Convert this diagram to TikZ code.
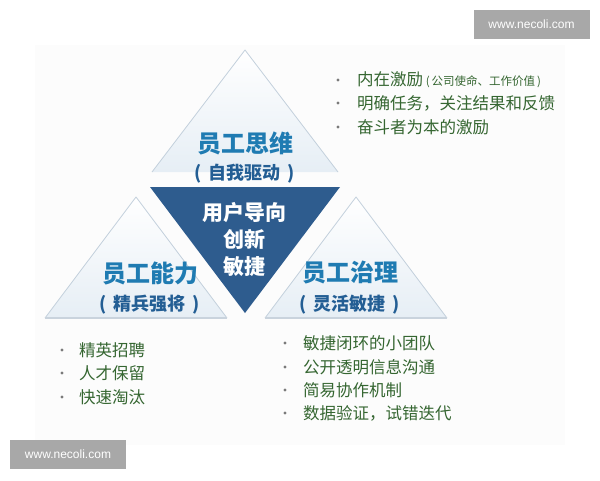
\documentclass[tikz,border=0pt]{standalone}
\usepackage{fontspec}
\setmainfont{Noto Sans CJK SC}
\newfontfamily\cjk{Noto Sans CJK SC}
\newfontfamily\latinsans{Liberation Sans}
\definecolor{darktri}{HTML}{2E5C8E}
\definecolor{titleblue}{HTML}{1F7BB2}
\definecolor{subblue}{HTML}{235E94}
\definecolor{greentext}{HTML}{356631}
\definecolor{edgegray}{HTML}{C3D0DC}
\definecolor{basegray}{HTML}{C9D3DD}
\definecolor{lightfill}{HTML}{E6EEF5}
\definecolor{wmgray}{HTML}{A8A8A8}
\definecolor{dotgray}{HTML}{7A7A7A}
\definecolor{bgfaint}{HTML}{FCFCFC}
\tikzset{
  title/.style={font=\cjk\bfseries\fontsize{24}{26}\selectfont, text=titleblue, inner sep=0pt},
  subtitle/.style={font=\cjk\bfseries\fontsize{18}{20}\selectfont, text=subblue, inner sep=0pt},
  coretext/.style={font=\cjk\bfseries\fontsize{21}{27}\selectfont, text=white, align=center, inner sep=0pt},
  bullettext/.style={font=\cjk\fontsize{16.5}{18}\selectfont, text=greentext, anchor=west, inner sep=0pt},
  bulletdot/.style={circle, fill=dotgray, inner sep=0pt, minimum size=3.4pt},
  watermark/.style={fill=wmgray, text=white, font=\latinsans\fontsize{12}{14}\selectfont, minimum width=116pt, minimum height=29pt, inner sep=0pt},
  trifill/.style={top color=white, bottom color=lightfill},
  triedge/.style={draw=edgegray, line width=0.8pt, line join=round},
  baseline/.style={draw=basegray, line width=2pt}
}
\begin{document}
\begin{tikzpicture}[x=1pt,y=-1pt]
\useasboundingbox (0,0) rectangle (600,480);
\fill[white] (0,0) rectangle (600,480);
\fill[bgfaint] (35,45) rectangle (565,445);

% outer triangles
\coordinate (ta) at (245,50);
\coordinate (tr) at (338,172);
\coordinate (tl) at (152,172);
\coordinate (la) at (136,197);
\coordinate (lbl) at (45,318);
\coordinate (lbr) at (227,318);
\coordinate (ra) at (356,197);
\coordinate (rbl) at (265,318);
\coordinate (rbr) at (447,318);
\shade[trifill] (ta) -- (tr) -- (tl) -- cycle;
\draw[triedge] (tl) -- (ta) -- (tr);
\shade[trifill] (la) -- (lbr) -- (lbl) -- cycle;
\draw[triedge] (lbr) -- (la) -- (lbl);
\shade[trifill] (ra) -- (rbr) -- (rbl) -- cycle;
\draw[triedge] (rbl) -- (ra) -- (rbr);
\draw[baseline] (lbl) -- (lbr);
\draw[baseline] (rbl) -- (rbr);

% central dark triangle
\fill[darktri] (150,187) -- (340,187) -- (245,313) -- cycle;

% titles
\node[title] (t1) at (245,143) {员工思维};
\node[subtitle] (s1) at (245,174) {(\hspace{7pt}自我驱动\hspace{7pt})};
\node[title] (t2) at (150,273) {员工能力};
\node[subtitle] (s2) at (150,305) {(\hspace{7pt}精兵强将\hspace{7pt})};
\node[title] (t3) at (350,273) {员工治理};
\node[subtitle] (s3) at (350,305) {(\hspace{7pt}灵活敏捷\hspace{7pt})};
\node[coretext] (core) at (244,240) {用户导向\\创新\\敏捷};

% top right list
\node[bulletdot] (d1) at (338,80) {};
\node[bullettext] (b1) at (357,80) {内在激励\,{\fontsize{11.5}{13}\selectfont (\,公司使命、工作价值\,)}};
\node[bulletdot] (d2) at (338,103) {};
\node[bullettext] (b2) at (357,103) {明确任务，关注结果和反馈};
\node[bulletdot] (d3) at (338,127) {};
\node[bullettext] (b3) at (357,127) {奋斗者为本的激励};

% left list
\node[bulletdot] (d4) at (62,350) {};
\node[bullettext] (b4) at (79,350) {精英招聘};
\node[bulletdot] (d5) at (62,373) {};
\node[bullettext] (b5) at (79,373) {人才保留};
\node[bulletdot] (d6) at (62,397) {};
\node[bullettext] (b6) at (79,397) {快速淘汰};

% right list
\node[bulletdot] (d7) at (285,343) {};
\node[bullettext] (b7) at (303,343) {敏捷闭环的小团队};
\node[bulletdot] (d8) at (285,367) {};
\node[bullettext] (b8) at (303,367) {公开透明信息沟通};
\node[bulletdot] (d9) at (285,390) {};
\node[bullettext] (b9) at (303,390) {简易协作机制};
\node[bulletdot] (d10) at (285,413) {};
\node[bullettext] (b10) at (303,413) {数据验证，试错迭代};

% watermarks
\node[watermark] (w1) at (531.5,24.5) {www.necoli.com};
\node[watermark] (w2) at (68,454.5) {www.necoli.com};
\end{tikzpicture}
\end{document}
